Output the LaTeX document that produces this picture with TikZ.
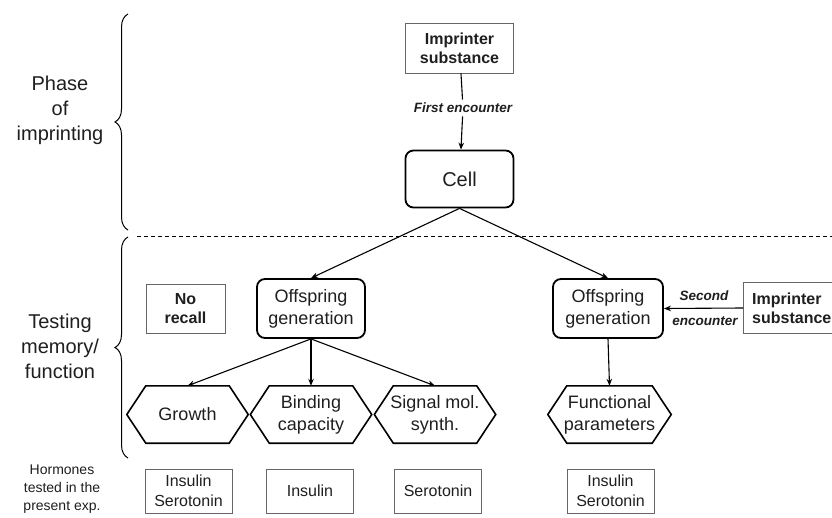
\documentclass[tikz,border=0pt]{standalone}
\usepackage{fontspec}
\setmainfont{Liberation Sans}
\usetikzlibrary{decorations.pathreplacing,arrows.meta}
\newcommand\hexpath[1]{\draw[line width=1.6pt, line join=miter] (#1.west) -- ([xshift=19pt]#1.north west) -- ([xshift=-19pt]#1.north east) -- (#1.east) -- ([xshift=-19pt]#1.south east) -- ([xshift=19pt]#1.south west) -- cycle;}
\begin{document}
\begin{tikzpicture}[x=1pt,y=-1pt,
  every node/.style={text=black!88},
  thinbox/.style={draw=black!60, line width=0.8pt, align=center, inner sep=0pt, font=\fontsize{16}{19}\selectfont\bfseries},
  rbox/.style={draw, line width=1.8pt, rounded corners=8pt, align=center, inner sep=0pt, font=\fontsize{18}{22}\selectfont},
  hexlabel/.style={minimum width=121pt, minimum height=57pt, inner sep=0pt, align=center, font=\fontsize{18}{22}\selectfont},
  arr/.style={-{Stealth[length=7pt,width=5.5pt]}, line width=1.1pt},
  plain/.style={line width=1.1pt},
  lab/.style={font=\fontsize{13.5}{16}\selectfont\bfseries\itshape},
  hbox/.style={draw=black!60, line width=0.8pt, minimum width=87pt, minimum height=44pt, inner sep=0pt, align=center, font=\fontsize{16}{20}\selectfont},
  side/.style={align=center, font=\fontsize{20}{25}\selectfont},
  bracestyle/.style={line width=1pt, decorate, decoration={brace, amplitude=13pt}}
]
\useasboundingbox[fill=white] (0,0) rectangle (832,518);

% left labels and braces
\node[side] (phase) at (60,110) {Phase\\of\\imprinting};
\node[side] (testing) at (60,346) {Testing\\memory/\\function};
\node[align=center, font=\fontsize{14}{18}\selectfont] (hormones) at (62,489) {Hormones\\tested in the\\present exp.};
\draw[bracestyle] (128,230) -- (128,14);
\draw[bracestyle] (128,458) -- (128,237);
\draw[line width=1pt, dash pattern=on 4pt off 3pt] (137,237) -- (832,237);

% top part
\node[thinbox, minimum width=108pt, minimum height=50pt] (imp1) at (459.5,48) {Imprinter\\substance};
\node[lab] (first) at (463,108) {First encounter};
\node[rbox, minimum width=108pt, minimum height=57pt, font=\fontsize{20}{24}\selectfont] (cell) at (459.5,179) {Cell};
\draw[plain] (imp1) -- (first);
\draw[arr] (first) -- (cell);

% middle row
\node[thinbox, minimum width=79pt, minimum height=49pt] (norec) at (185.5,308.5) {No\\recall};
\node[rbox, minimum width=108pt, minimum height=59pt] (off1) at (311,308.5) {Offspring\\generation};
\node[rbox, minimum width=110pt, minimum height=59pt] (off2) at (608,308.5) {Offspring\\generation};
\node[anchor=west, inner xsep=9pt, inner ysep=0pt, minimum height=50pt, align=left, font=\fontsize{16}{19}\selectfont\bfseries] (imp2) at (743,308) {Imprinter\\substance};
\draw[draw=black!60, line width=0.8pt] ([xshift=100pt]imp2.north west) -- (imp2.north west) -- (imp2.south west) -- ([xshift=100pt]imp2.south west);
\node[lab] (second) at (704,296) {Second};
\node[lab] (enc) at (705,321) {encounter};
\draw[arr] (imp2.west) -- (off2.east);
\draw[arr] (cell.south) -- (off1.north);
\draw[arr] (cell.south) -- (off2.north);

% hexagons
\node[hexlabel] (grow) at (187.5,414.5) {Growth};
\node[hexlabel] (bind) at (311,414.5) {Binding\\capacity};
\node[hexlabel] (sig) at (435,414.5) {Signal mol.\\synth.};
\node[hexlabel, minimum width=123pt] (func) at (609.5,414.5) {Functional\\parameters};
\hexpath{grow}
\hexpath{bind}
\hexpath{sig}
\hexpath{func}
\draw[arr] (off1.south) -- (grow.north);
\draw[arr] (off1.south) -- (bind.north);
\draw[arr] (off1.south) -- (sig.north);
\draw[arr] (off2.south) -- (func.north);

% bottom boxes
\node[hbox] (h1) at (188.5,491) {Insulin\\Serotonin};
\node[hbox] (h2) at (310,491) {Insulin};
\node[hbox] (h3) at (438,491) {Serotonin};
\node[hbox] (h4) at (610.5,491) {Insulin\\Serotonin};
\end{tikzpicture}
\end{document}
